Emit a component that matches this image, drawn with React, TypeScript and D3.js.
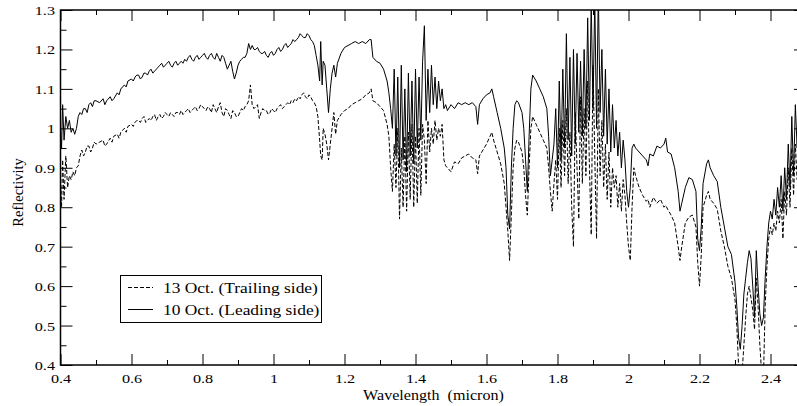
import React, { useRef, useEffect } from 'react';
import { select, scaleLinear, axisBottom, axisTop, axisLeft, axisRight, line, ascending } from 'd3';

// tick values
const xMajorTicks = [0.4, 0.6, 0.8, 1.0, 1.2, 1.4, 1.6, 1.8, 2.0, 2.2, 2.4];
const xMinorTicks = [0.5, 0.7, 0.9, 1.1, 1.3, 1.5, 1.7, 1.9, 2.1, 2.3];
const yMajorTicks = [0.4, 0.5, 0.6, 0.7, 0.8, 0.9, 1.0, 1.1, 1.2, 1.3];
const yMinorTicks = [0.45, 0.55, 0.65, 0.75, 0.85, 0.95, 1.05, 1.15, 1.25];

const seriesLabels = ['13 Oct. (Trailing side)', '10 Oct. (Leading side)'];

// [wavelength (micron), reflectivity]
const trailingSide: [number, number][] = [
  [0.400, 0.86], [0.403, 0.80], [0.406, 0.92], [0.410, 0.82], [0.415, 0.93], [0.420, 0.85], [0.425, 0.88], [0.430, 0.87], [0.435, 0.89], [0.440, 0.88],
  [0.445, 0.90], [0.450, 0.905], [0.455, 0.93], [0.46, 0.945], [0.465, 0.93], [0.47, 0.94], [0.475, 0.955], [0.48, 0.955], [0.485, 0.94], [0.49, 0.95], [0.495, 0.965], [0.50, 0.96], [0.51, 0.965], [0.52, 0.97],
  [0.525, 0.955], [0.53, 0.96], [0.54, 0.975], [0.545, 0.965], [0.55, 0.98], [0.56, 0.985], [0.565, 0.975], [0.57, 0.99], [0.58, 1.00], [0.585, 0.99], [0.59, 1.005], [0.60, 1.01], [0.61, 1.015], [0.62, 1.02],
  [0.63, 1.025], [0.64, 1.015], [0.65, 1.025], [0.66, 1.03], [0.67, 1.02], [0.68, 1.035], [0.69, 1.03], [0.70, 1.035], [0.71, 1.04], [0.72, 1.03],
  [0.73, 1.04], [0.74, 1.045], [0.75, 1.04], [0.76, 1.05], [0.77, 1.045], [0.78, 1.055], [0.79, 1.05], [0.80, 1.055], [0.81, 1.045], [0.82, 1.05],
  [0.83, 1.06], [0.84, 1.04], [0.85, 1.065], [0.86, 1.03], [0.87, 1.045], [0.88, 1.025], [0.89, 1.04], [0.90, 1.03], [0.91, 1.05], [0.92, 1.055],
  [0.93, 1.07], [0.935, 1.11], [0.94, 1.06], [0.95, 1.055], [0.96, 1.025], [0.97, 1.05], [0.98, 1.045], [0.99, 1.04], [1.00, 1.045], [1.01, 1.05],
  [1.02, 1.06], [1.03, 1.055], [1.04, 1.065], [1.05, 1.07], [1.06, 1.075], [1.07, 1.08], [1.08, 1.085], [1.09, 1.08], [1.10, 1.085], [1.11, 1.07],
  [1.12, 1.055], [1.125, 1.03], [1.13, 0.97], [1.133, 0.93], [1.137, 0.92], [1.14, 1.00], [1.145, 0.985], [1.15, 0.96], [1.155, 0.92], [1.16, 0.96],
  [1.165, 1.00], [1.17, 1.04], [1.175, 0.985], [1.18, 1.02], [1.19, 1.035], [1.20, 1.045], [1.21, 1.05], [1.22, 1.06], [1.23, 1.065], [1.24, 1.07],
  [1.25, 1.075], [1.26, 1.085], [1.27, 1.09], [1.275, 1.10], [1.28, 1.07], [1.29, 1.065], [1.30, 1.055], [1.31, 1.045], [1.32, 1.01], [1.325, 0.98],
  [1.33, 0.90], [1.335, 0.84], [1.34, 0.96], [1.345, 0.85], [1.35, 1.00], [1.355, 0.77], [1.36, 0.95], [1.365, 0.80], [1.37, 0.98], [1.375, 0.79],
  [1.38, 0.99], [1.385, 0.82], [1.39, 1.01], [1.395, 0.80], [1.40, 0.98], [1.405, 0.81], [1.41, 1.00], [1.415, 0.83], [1.42, 1.01], [1.425, 0.97],
  [1.43, 0.86], [1.435, 1.02], [1.44, 0.94], [1.445, 1.00], [1.45, 0.96], [1.455, 1.02], [1.46, 0.97], [1.465, 1.00], [1.47, 0.98], [1.475, 1.01],
  [1.48, 0.92], [1.485, 0.905], [1.49, 0.90], [1.50, 0.89], [1.51, 0.915], [1.52, 0.91], [1.53, 0.925], [1.54, 0.93], [1.55, 0.935], [1.56, 0.925],
  [1.57, 0.92], [1.575, 0.885], [1.58, 0.93], [1.59, 0.945], [1.60, 0.96], [1.61, 0.98], [1.615, 0.99], [1.62, 0.97], [1.63, 0.94], [1.64, 0.91],
  [1.65, 0.86], [1.655, 0.80], [1.66, 0.74], [1.665, 0.665], [1.67, 0.78], [1.675, 0.90], [1.68, 0.95], [1.685, 0.97], [1.69, 0.965], [1.70, 0.94],
  [1.705, 0.90], [1.71, 0.83], [1.715, 0.78], [1.72, 0.90], [1.725, 1.00], [1.73, 1.03], [1.74, 1.01], [1.75, 0.99], [1.76, 0.97], [1.77, 0.95],
  [1.775, 0.90], [1.78, 0.84], [1.785, 0.79], [1.79, 0.86], [1.795, 0.92], [1.80, 0.82], [1.805, 1.00], [1.81, 0.85], [1.815, 1.02], [1.82, 0.88],
  [1.825, 1.05], [1.83, 0.86], [1.835, 0.99], [1.84, 0.80], [1.845, 0.70], [1.85, 1.04], [1.855, 0.90], [1.86, 0.77], [1.865, 1.08], [1.87, 0.86],
  [1.875, 1.05], [1.88, 0.88], [1.885, 1.12], [1.89, 0.90], [1.895, 0.73], [1.90, 1.16], [1.905, 0.93], [1.91, 0.72], [1.915, 1.10], [1.92, 0.88],
  [1.925, 1.02], [1.93, 0.85], [1.935, 0.96], [1.94, 0.82], [1.945, 0.94], [1.95, 0.80], [1.955, 0.90], [1.96, 0.85], [1.965, 0.88], [1.97, 0.80],
  [1.975, 0.86], [1.98, 0.79], [1.985, 0.87], [1.99, 0.83], [1.995, 0.76], [2.00, 0.70], [2.005, 0.665], [2.01, 0.80], [2.015, 0.90], [2.02, 0.88],
  [2.03, 0.85], [2.04, 0.83], [2.05, 0.815], [2.055, 0.82], [2.06, 0.80], [2.07, 0.825], [2.08, 0.81], [2.09, 0.82], [2.10, 0.80], [2.105, 0.805],
  [2.11, 0.795], [2.12, 0.78], [2.13, 0.76], [2.14, 0.70], [2.145, 0.665], [2.15, 0.70], [2.16, 0.76], [2.17, 0.775], [2.18, 0.78], [2.19, 0.75],
  [2.195, 0.66], [2.20, 0.60], [2.205, 0.68], [2.21, 0.80], [2.22, 0.83], [2.225, 0.84], [2.23, 0.82], [2.24, 0.81], [2.25, 0.795], [2.26, 0.74],
  [2.27, 0.70], [2.28, 0.65], [2.29, 0.62], [2.30, 0.565], [2.305, 0.50], [2.31, 0.40], [2.315, 0.36], [2.32, 0.38], [2.325, 0.45], [2.33, 0.52],
  [2.335, 0.58], [2.34, 0.60], [2.345, 0.57], [2.35, 0.54], [2.355, 0.49], [2.36, 0.62], [2.365, 0.55], [2.37, 0.45], [2.375, 0.38], [2.38, 0.36],
  [2.385, 0.55], [2.39, 0.65], [2.395, 0.72], [2.40, 0.75], [2.405, 0.73], [2.41, 0.76], [2.415, 0.74], [2.42, 0.79], [2.425, 0.76], [2.43, 0.82],
  [2.435, 0.72], [2.44, 0.84], [2.445, 0.78], [2.45, 0.90], [2.455, 0.80], [2.46, 0.95], [2.465, 0.83], [2.47, 0.96], [2.475, 0.87], [2.48, 0.92],
];

// in-between samples of the noisy continuum 0.6-1.12 micron
const trailingSideFine: [number, number][] = [
  [0.605, 1.005], [0.615, 1.02], [0.625, 1.015], [0.635, 1.03], [0.645, 1.02], [0.655, 1.02], [0.665, 1.035], [0.675, 1.03], [0.685, 1.025], [0.695, 1.04],
  [0.705, 1.03], [0.715, 1.035], [0.725, 1.04], [0.735, 1.035], [0.745, 1.035], [0.755, 1.045], [0.765, 1.04], [0.775, 1.05], [0.785, 1.045], [0.795, 1.06],
  [0.805, 1.05], [0.815, 1.055], [0.825, 1.04], [0.835, 1.05], [0.845, 1.055], [0.855, 1.04], [0.865, 1.05], [0.875, 1.035], [0.885, 1.045], [0.895, 1.03],
  [0.905, 1.04], [0.915, 1.045], [0.925, 1.06], [0.945, 1.05], [0.955, 1.06], [0.965, 1.04], [0.975, 1.045], [0.985, 1.035], [0.995, 1.05], [1.005, 1.04],
  [1.015, 1.055], [1.025, 1.05], [1.035, 1.06], [1.045, 1.06], [1.055, 1.065], [1.065, 1.07], [1.075, 1.075], [1.085, 1.09], [1.095, 1.075], [1.105, 1.08],
  [1.115, 1.065],
];

const leadingSide: [number, number][] = [
  [0.400, 1.00], [0.403, 0.95], [0.406, 1.06], [0.410, 0.97], [0.415, 1.03], [0.420, 1.00], [0.425, 1.02], [0.430, 0.99], [0.435, 1.00], [0.440, 0.985],
  [0.445, 1.00], [0.450, 1.03], [0.455, 1.04], [0.46, 1.035], [0.465, 1.05], [0.47, 1.05], [0.475, 1.04], [0.48, 1.06], [0.485, 1.065], [0.49, 1.055], [0.495, 1.07], [0.50, 1.07], [0.51, 1.065], [0.52, 1.075],
  [0.525, 1.06], [0.53, 1.07], [0.54, 1.08], [0.545, 1.07], [0.55, 1.075], [0.56, 1.09], [0.565, 1.085], [0.57, 1.10], [0.58, 1.11], [0.585, 1.105], [0.59, 1.12], [0.60, 1.125], [0.61, 1.13], [0.62, 1.135],
  [0.63, 1.13], [0.64, 1.14], [0.65, 1.145], [0.66, 1.14], [0.67, 1.15], [0.68, 1.16], [0.69, 1.155], [0.70, 1.165], [0.71, 1.16], [0.72, 1.165],
  [0.73, 1.16], [0.74, 1.17], [0.75, 1.175], [0.76, 1.18], [0.77, 1.175], [0.78, 1.18], [0.79, 1.175], [0.80, 1.185], [0.81, 1.18], [0.82, 1.185],
  [0.83, 1.18], [0.84, 1.19], [0.85, 1.17], [0.86, 1.18], [0.87, 1.15], [0.88, 1.17], [0.89, 1.125], [0.90, 1.16], [0.91, 1.175], [0.92, 1.18],
  [0.93, 1.215], [0.935, 1.20], [0.94, 1.21], [0.95, 1.20], [0.96, 1.195], [0.97, 1.19], [0.98, 1.185], [0.99, 1.19], [1.00, 1.185], [1.01, 1.20],
  [1.02, 1.195], [1.03, 1.21], [1.04, 1.205], [1.05, 1.215], [1.06, 1.22], [1.07, 1.23], [1.08, 1.235], [1.09, 1.23], [1.10, 1.235], [1.11, 1.22],
  [1.12, 1.185], [1.125, 1.16], [1.13, 1.12], [1.133, 1.22], [1.137, 1.11], [1.14, 1.17], [1.145, 1.16], [1.15, 1.10], [1.155, 1.04], [1.16, 1.10],
  [1.165, 1.14], [1.17, 1.16], [1.175, 1.13], [1.18, 1.165], [1.19, 1.19], [1.20, 1.205], [1.21, 1.21], [1.22, 1.215], [1.23, 1.22], [1.24, 1.215],
  [1.25, 1.22], [1.26, 1.215], [1.27, 1.225], [1.275, 1.225], [1.28, 1.18], [1.29, 1.17], [1.30, 1.165], [1.31, 1.15], [1.32, 1.12], [1.325, 1.09],
  [1.33, 1.05], [1.335, 1.00], [1.34, 1.15], [1.345, 0.93], [1.35, 1.13], [1.355, 0.90], [1.36, 1.16], [1.365, 0.92], [1.37, 1.10], [1.375, 0.89],
  [1.38, 1.14], [1.385, 0.93], [1.39, 1.12], [1.395, 0.91], [1.40, 1.15], [1.405, 0.95], [1.41, 1.13], [1.415, 0.97], [1.42, 1.17], [1.425, 1.26],
  [1.43, 1.02], [1.435, 1.15], [1.44, 1.04], [1.445, 1.16], [1.45, 1.06], [1.455, 1.13], [1.46, 1.05], [1.465, 1.12], [1.47, 1.07], [1.475, 1.10],
  [1.48, 1.05], [1.485, 1.06], [1.49, 1.045], [1.50, 1.06], [1.51, 1.05], [1.52, 1.065], [1.53, 1.06], [1.54, 1.065], [1.55, 1.06], [1.56, 1.065],
  [1.57, 1.055], [1.575, 1.01], [1.58, 1.06], [1.59, 1.075], [1.60, 1.085], [1.61, 1.09], [1.615, 1.10], [1.62, 1.08], [1.63, 1.04], [1.64, 1.00],
  [1.65, 0.95], [1.655, 0.90], [1.66, 0.78], [1.665, 0.745], [1.67, 0.90], [1.675, 1.00], [1.68, 1.06], [1.685, 1.07], [1.69, 1.065], [1.70, 1.04],
  [1.705, 1.00], [1.71, 0.92], [1.715, 0.84], [1.72, 0.98], [1.725, 1.10], [1.73, 1.135], [1.74, 1.12], [1.75, 1.10], [1.76, 1.08], [1.77, 1.05],
  [1.775, 0.98], [1.78, 0.88], [1.785, 0.92], [1.79, 0.96], [1.795, 1.05], [1.80, 0.90], [1.805, 1.12], [1.81, 0.92], [1.815, 1.15], [1.82, 0.95],
  [1.825, 1.24], [1.83, 0.97], [1.835, 1.18], [1.84, 0.93], [1.845, 1.20], [1.85, 0.96], [1.855, 1.19], [1.86, 0.99], [1.865, 1.17], [1.87, 0.98],
  [1.875, 1.20], [1.88, 1.00], [1.885, 1.28], [1.89, 1.02], [1.895, 1.32], [1.90, 1.05], [1.905, 1.33], [1.91, 1.00], [1.915, 1.35], [1.92, 1.04],
  [1.925, 1.20], [1.93, 0.98], [1.935, 1.15], [1.94, 0.96], [1.945, 1.10], [1.95, 0.94], [1.955, 1.06], [1.96, 0.95], [1.965, 1.02], [1.97, 0.93],
  [1.975, 0.99], [1.98, 0.90], [1.985, 0.97], [1.99, 0.92], [1.995, 0.84], [2.00, 0.80], [2.005, 0.85], [2.01, 0.95], [2.015, 0.96], [2.02, 0.95],
  [2.03, 0.94], [2.04, 0.93], [2.05, 0.92], [2.055, 0.905], [2.06, 0.935], [2.07, 0.93], [2.08, 0.955], [2.09, 0.95], [2.10, 0.96], [2.105, 0.975],
  [2.11, 0.94], [2.12, 0.935], [2.13, 0.90], [2.14, 0.84], [2.145, 0.79], [2.15, 0.81], [2.16, 0.85], [2.17, 0.875], [2.18, 0.87], [2.19, 0.84],
  [2.195, 0.72], [2.20, 0.69], [2.205, 0.75], [2.21, 0.86], [2.22, 0.91], [2.225, 0.92], [2.23, 0.90], [2.24, 0.88], [2.25, 0.865], [2.26, 0.80],
  [2.27, 0.75], [2.28, 0.70], [2.29, 0.68], [2.30, 0.61], [2.305, 0.55], [2.31, 0.47], [2.315, 0.44], [2.32, 0.50], [2.325, 0.58], [2.33, 0.62],
  [2.335, 0.66], [2.34, 0.69], [2.345, 0.67], [2.35, 0.60], [2.355, 0.52], [2.36, 0.69], [2.365, 0.60], [2.37, 0.53], [2.375, 0.50], [2.38, 0.52],
  [2.385, 0.62], [2.39, 0.70], [2.395, 0.76], [2.40, 0.79], [2.405, 0.77], [2.41, 0.82], [2.415, 0.78], [2.42, 0.85], [2.425, 0.80], [2.43, 0.88],
  [2.435, 0.79], [2.44, 0.90], [2.445, 0.82], [2.45, 0.96], [2.455, 0.85], [2.46, 1.03], [2.465, 0.88], [2.47, 1.06], [2.475, 0.95], [2.48, 1.10],
];

const leadingSideFine: [number, number][] = [
  [0.605, 1.12], [0.615, 1.135], [0.625, 1.125], [0.635, 1.14], [0.645, 1.135], [0.655, 1.15], [0.665, 1.145], [0.675, 1.155], [0.685, 1.165], [0.695, 1.16],
  [0.705, 1.17], [0.715, 1.155], [0.725, 1.17], [0.735, 1.165], [0.745, 1.165], [0.755, 1.17], [0.765, 1.185], [0.775, 1.17], [0.785, 1.185], [0.795, 1.18],
  [0.805, 1.19], [0.815, 1.175], [0.825, 1.19], [0.835, 1.175], [0.845, 1.18], [0.855, 1.185], [0.865, 1.165], [0.875, 1.16], [0.885, 1.145], [0.895, 1.14],
  [0.905, 1.17], [0.915, 1.18], [0.925, 1.19], [0.945, 1.20], [0.955, 1.205], [0.965, 1.19], [0.975, 1.195], [0.985, 1.18], [0.995, 1.195], [1.005, 1.19],
  [1.015, 1.205], [1.025, 1.20], [1.035, 1.215], [1.045, 1.21], [1.055, 1.225], [1.065, 1.225], [1.075, 1.24], [1.085, 1.23], [1.095, 1.24], [1.105, 1.225],
  [1.115, 1.21],
];

const width = 797;
const height = 406;
const margin = { top: 10, left: 60.5, bottom: 41 };
const plotRight = 806; // the frame runs to 2.5, just past the picture edge
const fontFamily = "'Liberation Serif', 'Times New Roman', serif";
const stretch = 'scale(1.2,1)';

const fmt = (v: number) => String(+v.toFixed(2));
const merged = (a: [number, number][], b: [number, number][]) =>
  a.concat(b).sort((p, q) => ascending(p[0], q[0]));

const App = () => {
  const svgRef = useRef<SVGSVGElement>(null);

  useEffect(() => {
    const svgEl = select(svgRef.current);
    svgEl.selectAll('*').remove();

    const plotBottom = height - margin.bottom;

    const xScale = scaleLinear().domain([0.4, 2.5]).range([margin.left, plotRight]);
    const yScale = scaleLinear().domain([0.4, 1.3]).range([plotBottom, margin.top]);

    svgEl.append('defs')
      .append('clipPath')
      .attr('id', 'plot-clip')
      .append('rect')
      .attr('x', margin.left)
      .attr('y', margin.top)
      .attr('width', plotRight - margin.left)
      .attr('height', plotBottom - margin.top);

    // spectra
    const spectrum = line<[number, number]>()
      .x(d => xScale(d[0]))
      .y(d => yScale(d[1]));

    const plot = svgEl.append('g').attr('clip-path', 'url(#plot-clip)');

    plot.append('path')
      .datum(merged(trailingSide, trailingSideFine))
      .attr('fill', 'none')
      .attr('stroke', '#000')
      .attr('stroke-width', 1)
      .attr('stroke-dasharray', '4,2')
      .attr('d', spectrum);

    plot.append('path')
      .datum(merged(leadingSide, leadingSideFine))
      .attr('fill', 'none')
      .attr('stroke', '#000')
      .attr('stroke-width', 1)
      .attr('d', spectrum);

    // axes, ticks pointing inwards
    const addAxis = (axis: any, transform: string) => {
      const g = svgEl.append('g')
        .attr('transform', transform)
        .call(axis);
      // d3 sets its own font on the group during call, so override afterwards
      g.attr('font-family', fontFamily).attr('font-size', 13.5);
      g.select('.domain').remove();
      g.selectAll('line').attr('stroke', '#000');
      return g;
    };

    const xBottom = addAxis(
      axisBottom(xScale).tickValues(xMajorTicks).tickSize(-11).tickFormat(fmt),
      `translate(0, ${plotBottom})`
    );
    xBottom.selectAll('text')
      .attr('dy', null)
      .attr('y', 18)
      .attr('fill', '#000')
      .attr('transform', stretch);

    addAxis(axisBottom(xScale).tickValues(xMinorTicks).tickSize(-5).tickFormat(() => ''), `translate(0, ${plotBottom})`);
    addAxis(axisTop(xScale).tickValues(xMajorTicks).tickSize(-11).tickFormat(() => ''), `translate(0, ${margin.top})`);
    addAxis(axisTop(xScale).tickValues(xMinorTicks).tickSize(-5).tickFormat(() => ''), `translate(0, ${margin.top})`);

    const yLeft = addAxis(
      axisLeft(yScale).tickValues(yMajorTicks).tickSize(-12).tickFormat(fmt),
      `translate(${margin.left}, 0)`
    );
    yLeft.selectAll('text')
      .attr('x', -4.6)
      .attr('dy', '0.33em')
      .attr('fill', '#000')
      .attr('transform', stretch);

    addAxis(axisLeft(yScale).tickValues(yMinorTicks).tickSize(-6).tickFormat(() => ''), `translate(${margin.left}, 0)`);
    addAxis(axisRight(yScale).tickValues(yMajorTicks).tickSize(-12).tickFormat(() => ''), `translate(${plotRight}, 0)`);
    addAxis(axisRight(yScale).tickValues(yMinorTicks).tickSize(-6).tickFormat(() => ''), `translate(${plotRight}, 0)`);

    // frame
    svgEl.append('rect')
      .attr('x', margin.left)
      .attr('y', margin.top)
      .attr('width', plotRight - margin.left)
      .attr('height', plotBottom - margin.top)
      .attr('fill', 'none')
      .attr('stroke', '#000')
      .attr('stroke-width', 1.5);

    // axis titles
    svgEl.append('text')
      .attr('transform', `translate(433.5, 400) scale(1.15,1)`)
      .attr('text-anchor', 'middle')
      .attr('font-family', fontFamily)
      .attr('font-size', 14)
      .style('white-space', 'pre')
      .text('Wavelength  (micron)');

    svgEl.append('text')
      .attr('transform', `translate(23, ${(margin.top + plotBottom) / 2 + 5}) rotate(-90)`)
      .attr('text-anchor', 'middle')
      .attr('font-family', fontFamily)
      .attr('font-size', 14.5)
      .text('Reflectivity');

    // legend
    const legend = svgEl.append('g');
    legend.append('rect')
      .attr('x', 120.5)
      .attr('y', 275.5)
      .attr('width', 201)
      .attr('height', 47)
      .attr('fill', '#fff')
      .attr('stroke', '#000')
      .attr('stroke-width', 1);

    seriesLabels.forEach((label, i) => {
      const rowY = 287.5 + i * 22;
      legend.append('line')
        .attr('x1', 128)
        .attr('x2', 153)
        .attr('y1', rowY)
        .attr('y2', rowY)
        .attr('stroke', '#000')
        .attr('stroke-width', 1)
        .attr('stroke-dasharray', i === 0 ? '4,2' : null);
      legend.append('text')
        .attr('transform', `translate(163, ${rowY + 5}) ${stretch}`)
        .attr('font-family', fontFamily)
        .attr('font-size', 14.5)
        .text(label);
    });
  }, []);

  return (
    <svg
      ref={svgRef}
      width={width}
      height={height}
      style={{ position: 'absolute', left: 0, top: 0, background: '#fff' }}
    />
  );
};

export default App;
